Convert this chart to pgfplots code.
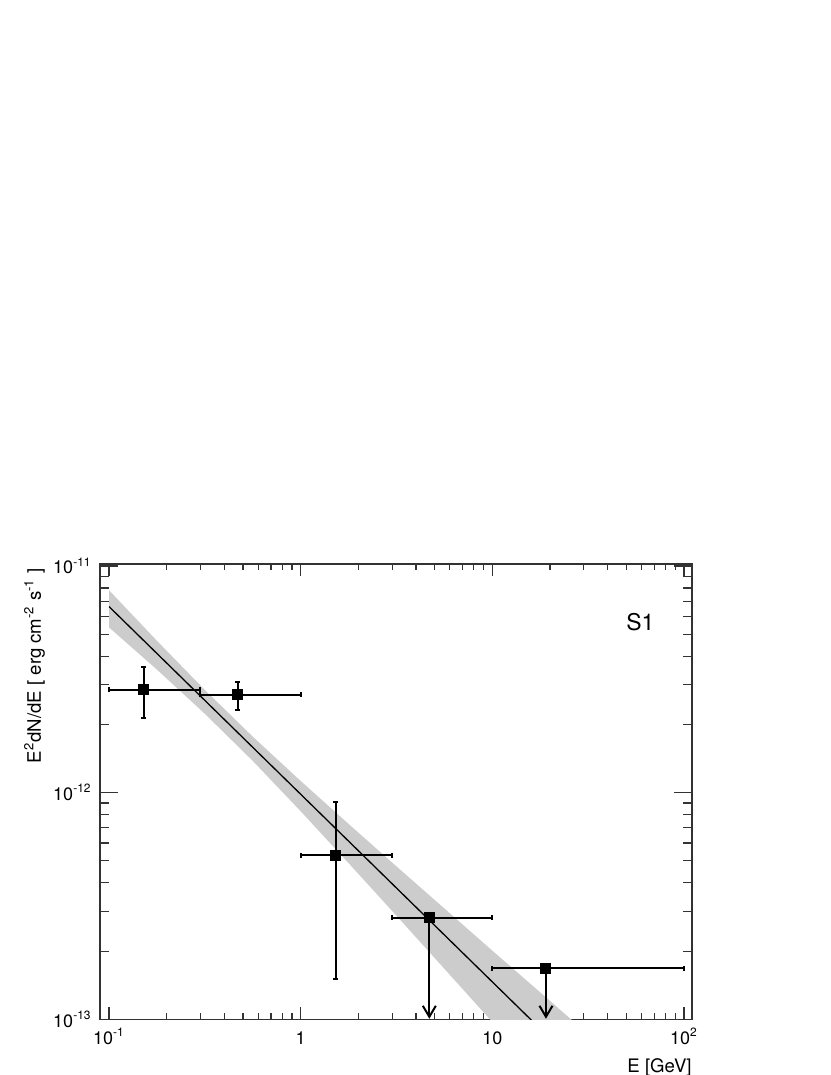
\documentclass[border=0pt]{standalone}
\usepackage{fontspec}
\setmainfont{TeX Gyre Heros}
\usepackage{pgfplots}
\pgfplotsset{compat=1.18}
\usetikzlibrary{arrows.meta}
\definecolor{band}{HTML}{CCCCCC}
\definecolor{axisgray}{HTML}{333333}

\begin{document}
\begin{tikzpicture}
\useasboundingbox (0,0) rectangle (415pt,537.5pt);
\begin{axis}[
  at={(50pt,27.85pt)}, anchor=south west,
  scale only axis, width=296pt, height=227.65pt,
  xmode=log, ymode=log,
  xmin=0.0897, xmax=110.1, ymin=1e-13, ymax=1.02e-11,
  xtick={0.1,1,10,100},
  xticklabels={10\textsuperscript{-1},1,10,10\textsuperscript{2}},
  minor xtick={0.2,0.3,0.4,0.5,0.6,0.7,0.8,0.9,2,3,4,5,6,7,8,9,20,30,40,50,60,70,80,90},
  ytick={1e-13,1e-12,1e-11},
  yticklabels={10\textsuperscript{-13},10\textsuperscript{-12},10\textsuperscript{-11}},
  minor ytick={2e-13,3e-13,4e-13,5e-13,6e-13,7e-13,8e-13,9e-13,2e-12,3e-12,4e-12,5e-12,6e-12,7e-12,8e-12,9e-12},
  tick align=inside, xtick pos=both, ytick pos=both,
  xticklabel pos=lower, yticklabel pos=left,
  xtick style={/pgfplots/major tick length=6pt,/pgfplots/minor tick length=3pt},
  ytick style={/pgfplots/major tick length=9pt,/pgfplots/minor tick length=4.5pt},
  axis line style={draw=axisgray, line width=0.75pt},
  every tick/.append style={axisgray, line width=0.6pt},
  tick label style={font=\fontsize{9}{10}\selectfont},
  xticklabel style={anchor=base, yshift=-12.6pt},
  yticklabel style={anchor=east, inner sep=0pt, xshift=-4pt},
  xlabel={E [GeV]},
  ylabel={E\textsuperscript{2}dN/dE [ erg cm\textsuperscript{-2} s\textsuperscript{-1} ]},
  label style={font=\fontsize{9.3}{11}\selectfont},
  xlabel style={at={(axis description cs:1,-0.1157)}, anchor=base east, inner sep=0pt},
  ylabel style={at={(axis description cs:-0.0922,0.991)}, anchor=south east, inner sep=0pt},
]
% 1 sigma band of the power-law fit
\addplot[fill=band, draw=none] coordinates {
  (0.1,7.816e-12) (0.1778,4.677e-12) (0.3162,2.838e-12) (0.5623,1.766e-12)
  (1,1.126e-12) (1.778,7.278e-13) (3.162,4.726e-13) (5.623,3.083e-13)
  (10,2.009e-13) (17.78,1.315e-13) (31.62,8.59e-14)
  (17.78,5.66e-14) (10,9.73e-14) (5.623,1.671e-13) (3.162,2.864e-13)
  (1.778,4.887e-13) (1,8.28e-13) (0.5623,1.380e-12) (0.3162,2.228e-12)
  (0.1778,3.491e-12) (0.1,5.358e-12)
} -- cycle;
% best fit
\addplot[black, line width=0.65pt] coordinates {(0.1,6.62e-12) (31.62,5.64e-14)};
% flux points
\addplot[black, only marks, mark=square*, mark size=2.25pt, line width=1pt,
  error bars/.cd, x dir=both, x explicit, y dir=both, y explicit,
  error bar style={line width=1pt},
  error mark options={rotate=90, mark size=1.25pt, line width=1pt}]
  coordinates {
  (0.152,2.84e-12) += (0.148,0.74e-12) -= (0.052,0.71e-12)
  (0.469,2.70e-12) += (0.531,0.39e-12) -= (0.169,0.39e-12)
  (1.52,5.30e-13) += (1.48,3.83e-13) -= (0.52,3.79e-13)
};
% upper limits
\addplot[black, only marks, mark=square*, mark size=2.25pt, line width=1pt,
  error bars/.cd, x dir=both, x explicit,
  error bar style={line width=1pt},
  error mark options={rotate=90, mark size=1.25pt, line width=1pt}]
  coordinates {
  (4.69,2.81e-13) += (5.31,0) -= (1.69,0)
  (19.05,1.68e-13) += (80.95,0) -= (9.05,0)
};
\addplot[black, line width=1pt, -{Straight Barb[length=5.5pt,width=6.5pt]}]
  coordinates {(4.69,2.81e-13) (4.69,1.006e-13)};
\addplot[black, line width=1pt, -{Straight Barb[length=5.5pt,width=6.5pt]}]
  coordinates {(19.05,1.68e-13) (19.05,1.006e-13)};
\node[font=\fontsize{11.5}{13}\selectfont] at (axis description cs:0.9127,0.8726) {S1};
\end{axis}
\end{tikzpicture}
\end{document}
